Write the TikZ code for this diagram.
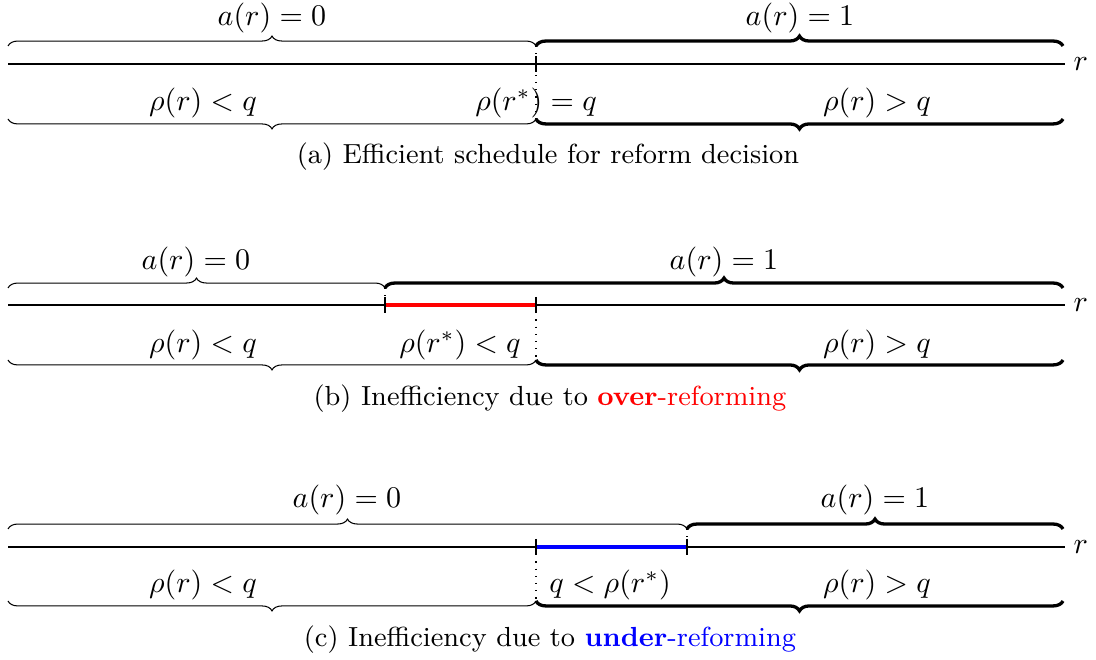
\documentclass[tikz,border=0pt]{standalone}
\usetikzlibrary{decorations.pathreplacing}
\begin{document}
\begin{tikzpicture}[x=0.3333pt,y=-0.3333pt,
  ubrace/.style={decorate,decoration={brace,amplitude=3.3pt}},
  lbrace/.style={decorate,decoration={brace,mirror,amplitude=3.3pt}},
  thinb/.style={line width=0.35pt},
  thickb/.style={line width=1.1pt},
  axisline/.style={line width=0.4pt},
  tickmark/.style={line width=0.75pt},
  guide/.style={dotted,line width=0.4pt},
  seg/.style={line width=1.3pt},
  mathlbl/.style={font=\fontsize{10.4}{12}\selectfont, inner sep=0pt},
  caplbl/.style={font=\fontsize{9.2}{11}\selectfont, inner sep=0pt}]
\useasboundingbox (0,0) rectangle (1096,660);

% ---------------- Panel (a) ----------------
\coordinate (aL) at (8,64);
\coordinate (aR) at (1065,64);
\coordinate (aT) at (536,64);
\coordinate (aU0) at (8,46);
\coordinate (aU1) at (536,46);
\coordinate (aU2) at (1063,46);
\coordinate (aD0) at (8,119);
\coordinate (aD1) at (536,119);
\coordinate (aD2) at (1063,119);
\coordinate (aK0) at (536,56);
\coordinate (aK1) at (536,72);
\draw[axisline] (aL) -- (aR);
\node[mathlbl, anchor=west] (ar) at (1073,64) {$r$};
\draw[thinb,ubrace] (aU0) -- (aU1);
\draw[thickb,ubrace] (aU1) -- (aU2);
\draw[thinb,lbrace] (aD0) -- (aD1);
\draw[thickb,lbrace] (aD1) -- (aD2);
\draw[guide] (aU1) -- (aD1);
\draw[tickmark] (aK0) -- (aK1);
\node[mathlbl] (aa0) at (272,18) {$a(r)=0$};
\node[mathlbl] (aa1) at (800,18) {$a(r)=1$};
\node[mathlbl] (arho0) at (203,103) {$\rho(r)<q$};
\node[mathlbl] (arhos) at (536,103) {$\rho(r^*)=q$};
\node[mathlbl] (arho1) at (877,103) {$\rho(r)>q$};
\node[caplbl] (acap) at (548,157) {(a) Efficient schedule for reform decision};

% ---------------- Panel (b) ----------------
\coordinate (bL) at (8,305);
\coordinate (bR) at (1065,305);
\coordinate (bS) at (385,305);
\coordinate (bT) at (536,305);
\coordinate (bU0) at (8,288);
\coordinate (bU1) at (385,288);
\coordinate (bU2) at (1063,288);
\coordinate (bD0) at (8,360);
\coordinate (bD1) at (536,360);
\coordinate (bD2) at (1063,360);
\coordinate (bK0) at (385,297);
\coordinate (bK1) at (385,313);
\coordinate (bK2) at (536,297);
\coordinate (bK3) at (536,313);
\draw[axisline] (bL) -- (bR);
\node[mathlbl, anchor=west] (br) at (1073,305) {$r$};
\draw[thinb,ubrace] (bU0) -- (bU1);
\draw[thickb,ubrace] (bU1) -- (bU2);
\draw[thinb,lbrace] (bD0) -- (bD1);
\draw[thickb,lbrace] (bD1) -- (bD2);
\draw[guide] (bU1) -- (bS);
\draw[guide] (bT) -- (bD1);
\draw[seg,red] (bS) -- (bT);
\draw[tickmark] (bK0) -- (bK1);
\draw[tickmark] (bK2) -- (bK3);
\node[mathlbl] (ba0) at (196,262) {$a(r)=0$};
\node[mathlbl] (ba1) at (724,262) {$a(r)=1$};
\node[mathlbl] (brho0) at (203,345) {$\rho(r)<q$};
\node[mathlbl] (brhos) at (460,345) {$\rho(r^*)<q$};
\node[mathlbl] (brho1) at (877,345) {$\rho(r)>q$};
\node[caplbl] (bcap) at (550,399) {(b) Inefficiency due to \textcolor{red}{\textbf{over}-reforming}};

% ---------------- Panel (c) ----------------
\coordinate (cL) at (8,547);
\coordinate (cR) at (1065,547);
\coordinate (cT) at (536,547);
\coordinate (cS) at (687,547);
\coordinate (cU0) at (8,529);
\coordinate (cU1) at (687,529);
\coordinate (cU2) at (1063,529);
\coordinate (cD0) at (8,601);
\coordinate (cD1) at (536,601);
\coordinate (cD2) at (1063,601);
\coordinate (cK0) at (536,539);
\coordinate (cK1) at (536,555);
\coordinate (cK2) at (687,539);
\coordinate (cK3) at (687,555);
\draw[axisline] (cL) -- (cR);
\node[mathlbl, anchor=west] (cr) at (1073,547) {$r$};
\draw[thinb,ubrace] (cU0) -- (cU1);
\draw[thickb,ubrace] (cU1) -- (cU2);
\draw[thinb,lbrace] (cD0) -- (cD1);
\draw[thickb,lbrace] (cD1) -- (cD2);
\draw[guide] (cU1) -- (cS);
\draw[guide] (cT) -- (cD1);
\draw[seg,blue] (cT) -- (cS);
\draw[tickmark] (cK0) -- (cK1);
\draw[tickmark] (cK2) -- (cK3);
\node[mathlbl] (ca0) at (347,500) {$a(r)=0$};
\node[mathlbl] (ca1) at (875,500) {$a(r)=1$};
\node[mathlbl] (crho0) at (203,585) {$\rho(r)<q$};
\node[mathlbl] (crhos) at (610,585) {$q<\rho(r^*)$};
\node[mathlbl] (crho1) at (877,585) {$\rho(r)>q$};
\node[caplbl] (ccap) at (550,640) {(c) Inefficiency due to \textcolor{blue}{\textbf{under}-reforming}};
\end{tikzpicture}
\end{document}
